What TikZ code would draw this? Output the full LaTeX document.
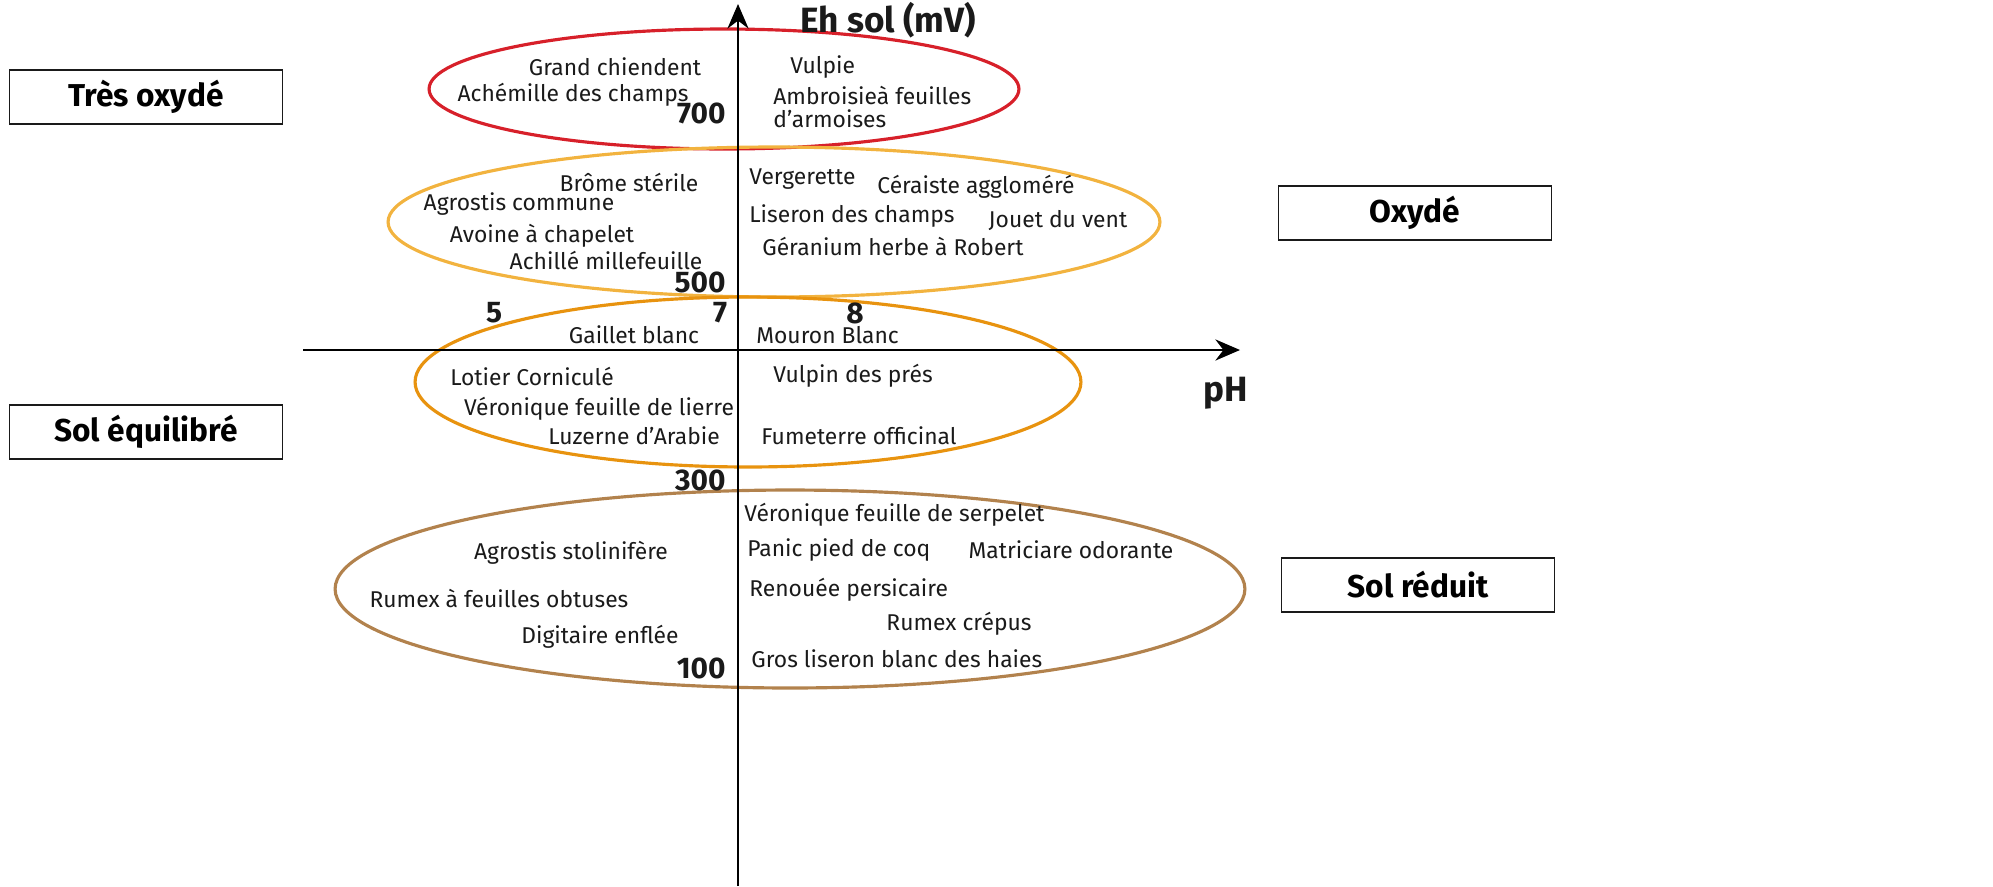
\documentclass[tikz,border=0pt]{standalone}
\usepackage{fontspec}
\setmainfont{Fira Sans}
\usetikzlibrary{arrows.meta, positioning}

\definecolor{zonered}{HTML}{D7202A}
\definecolor{zonelight}{HTML}{F2B33F}
\definecolor{zoneorange}{HTML}{E8930F}
\definecolor{zonebrown}{HTML}{B2824D}
\definecolor{inkdark}{HTML}{1A1A1A}

\tikzset{
    plant/.style={font=\fontsize{13}{15}\selectfont, text=inkdark, inner sep=0pt},
    tick/.style={font=\bfseries\fontsize{17}{19}\selectfont, text=inkdark, inner sep=0pt},
    zonebox/.style={draw=inkdark, line width=0.8pt, minimum width=5.46cm, minimum height=1.08cm, font=\bfseries\fontsize{18}{20}\selectfont},
    zone/.style={line width=1.8pt},
    axis/.style={line width=1.5pt, -{Stealth[length=14pt, width=12pt]}}
}

\begin{document}
\begin{tikzpicture}[x=0.02cm, y=-0.02cm]
    \useasboundingbox (0,0) rectangle (1993,886);

    % zones
    \draw[zone, zonered] (724,89) ellipse [x radius=5.9cm, y radius=1.2cm];
    \draw[zone, zonelight] (774,222) ellipse [x radius=7.72cm, y radius=1.5cm];
    \draw[zone, zoneorange] (748,382) ellipse [x radius=6.66cm, y radius=1.7cm];
    \draw[zone, zonebrown] (790,589) ellipse [x radius=9.1cm, y radius=1.98cm];

    % axes
    \coordinate (ybot) at (738,886);
    \coordinate (ytop) at (738,4);
    \coordinate (xleft) at (303,350);
    \coordinate (xright) at (1240,350);
    \draw[axis] (ybot) -- (ytop);
    \draw[axis] (xleft) -- (xright);
    \node (ehlabel) [tick, font=\bfseries\fontsize{20}{22}\selectfont] at (888,20) {Eh sol (mV)};
    \node (phlabel) [tick, font=\bfseries\fontsize{20}{22}\selectfont] at (1226,393) {pH};

    % ticks
    \node (t700) [tick, anchor=east] at (726,113) {700};
    \node (t500) [tick, anchor=east] at (726,282) {500};
    \node (t300) [tick, anchor=east] at (726,480) {300};
    \node (t100) [tick, anchor=east] at (726,668) {100};
    \node (p5) [tick] at (494,313) {5};
    \node (p7) [tick] at (720,313) {7};
    \node (p8) [tick] at (855,313) {8};

    % zone labels
    \node (tresox) [zonebox] at (146,97) {Très oxydé};
    \node (oxyde) [zonebox] at (1415,213) {Oxydé};
    \node (equil) [zonebox] at (146,432) {Sol équilibré};
    \node (reduit) [zonebox] at (1418,585) {Sol réduit};

    % tres oxyde
    \node (grandch) [plant] at (615,67) {Grand chiendent};
    \node (achem) [plant] at (573,95) {Achémille des champs};
    \node (vulpie) [plant, anchor=west] at (790,67) {Vulpie};
    \node (ambro) [plant, anchor=west] at (773,95) {Ambroisieà feuilles};
    \node (armoise) [plant, anchor=west] at (773,119) {d’armoises};

    % oxyde
    \node (brome) [plant] at (629,182) {Brôme stérile};
    \node (agrcom) [plant] at (519,204) {Agrostis commune};
    \node (avoine) [plant] at (542,236) {Avoine à chapelet};
    \node (achil) [plant] at (606,260) {Achillé millefeuille};
    \node (verge) [plant, anchor=west] at (749,179) {Vergerette};
    \node (ceraiste) [plant] at (976,187) {Céraiste aggloméré};
    \node (liseron) [plant, anchor=west] at (749,216) {Liseron des champs};
    \node (jouet) [plant] at (1058,220) {Jouet du vent};
    \node (geran) [plant, anchor=west] at (762,246) {Géranium herbe à Robert};

    % equilibre
    \node (gaillet) [plant] at (634,335) {Gaillet blanc};
    \node (mouron) [plant, anchor=west] at (756,335) {Mouron Blanc};
    \node (lotier) [plant] at (532,376) {Lotier Corniculé};
    \node (vulpin) [plant, anchor=west] at (773,376) {Vulpin des prés};
    \node (verlierre) [plant] at (599,409) {Véronique feuille de lierre};
    \node (luzerne) [plant] at (634,436) {Luzerne d’Arabie};
    \node (fumet) [plant, anchor=west] at (761,436) {Fumeterre officinal};

    % reduit
    \node (verserp) [plant, anchor=west] at (744,515) {Véronique feuille de serpelet};
    \node (agrsto) [plant] at (571,553) {Agrostis stolinifère};
    \node (panic) [plant, anchor=west] at (747,550) {Panic pied de coq};
    \node (matric) [plant] at (1071,550) {Matriciare odorante};
    \node (renouee) [plant, anchor=west] at (749,590) {Renouée persicaire};
    \node (rumexob) [plant] at (499,598) {Rumex à feuilles obtuses};
    \node (rumexcr) [plant] at (959,624) {Rumex crépus};
    \node (digit) [plant] at (600,637) {Digitaire enflée};
    \node (gros) [plant, anchor=west] at (751,659) {Gros liseron blanc des haies};
\end{tikzpicture}
\end{document}
